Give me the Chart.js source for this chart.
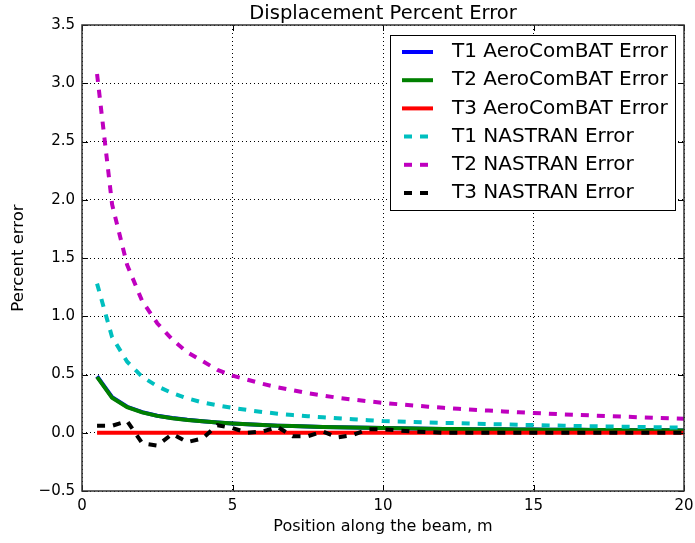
<!DOCTYPE html>
<html lang="en">
<head>
<meta charset="UTF-8">
<title>Displacement Percent Error</title>
<script src="https://cdn.jsdelivr.net/npm/chart.js"></script>
<style>
  html, body { margin: 0; padding: 0; background: #fff; }
  #wrap { width: 695px; height: 543px; }
</style>
</head>
<body>
<div id="wrap"><canvas id="errChart" width="695" height="543"></canvas></div>
<script>
// position along the beam (m)
const posiciones = [0.5, 1, 1.5, 2, 2.5, 3, 3.5, 4, 4.5, 5, 5.5, 6, 6.5, 7, 7.5, 8, 8.5, 9, 9.5, 10,
  10.5, 11, 11.5, 12, 12.5, 13, 13.5, 14, 14.5, 15, 15.5, 16, 16.5, 17, 17.5, 18, 18.5, 19, 19.5, 20];

const t1Aero = [0.485, 0.305, 0.223, 0.177, 0.146, 0.126, 0.111, 0.099, 0.088, 0.079, 0.072, 0.066, 0.061, 0.057, 0.053, 0.05, 0.047, 0.044, 0.042, 0.04,
  0.038, 0.036, 0.035, 0.033, 0.032, 0.031, 0.03, 0.029, 0.028, 0.027, 0.026, 0.025, 0.025, 0.024, 0.023, 0.023, 0.022, 0.021, 0.021, 0.02];
const t2Aero = [0.48, 0.30, 0.22, 0.175, 0.145, 0.125, 0.11, 0.098, 0.088, 0.079, 0.072, 0.066, 0.061, 0.057, 0.053, 0.05, 0.047, 0.044, 0.042, 0.04,
  0.038, 0.036, 0.035, 0.033, 0.032, 0.031, 0.03, 0.029, 0.028, 0.027, 0.026, 0.025, 0.025, 0.024, 0.023, 0.023, 0.022, 0.021, 0.021, 0.02];
const t3Aero = [0, 0, 0, 0, 0, 0, 0, 0, 0, 0, 0, 0, 0, 0, 0, 0, 0, 0, 0, 0,
  0, 0, 0, 0, 0, 0, 0, 0, 0, 0, 0, 0, 0, 0, 0, 0, 0, 0, 0, 0];
const t1Nastran = [1.28, 0.82, 0.61, 0.48, 0.40, 0.34, 0.295, 0.26, 0.235, 0.213, 0.195, 0.178, 0.164, 0.152, 0.142, 0.133, 0.124, 0.116, 0.108, 0.1,
  0.097, 0.093, 0.089, 0.085, 0.082, 0.078, 0.075, 0.072, 0.069, 0.066, 0.063, 0.061, 0.058, 0.056, 0.054, 0.052, 0.05, 0.048, 0.046, 0.044];
const t2Nastran = [3.08, 1.96, 1.44, 1.13, 0.94, 0.80, 0.69, 0.615, 0.54, 0.49, 0.455, 0.42, 0.39, 0.365, 0.34, 0.32, 0.30, 0.285, 0.27, 0.257,
  0.245, 0.234, 0.224, 0.214, 0.205, 0.197, 0.19, 0.183, 0.176, 0.17, 0.164, 0.158, 0.153, 0.148, 0.143, 0.138, 0.133, 0.128, 0.124, 0.12];
const t3Nastran = [0.06, 0.06, 0.10, -0.09, -0.11, -0.01, -0.08, -0.05, 0.065, 0.04, 0.0, 0.01, 0.05, -0.03, -0.03, 0.01, -0.04, -0.02, 0.03, 0.03,
  0.02, 0.01, 0.005, 0, 0, 0, 0, 0, 0, 0, 0, 0, 0, 0, 0, 0, 0, 0, 0, 0];

const yTicks = [-0.5, 0, 0.5, 1, 1.5, 2, 2.5, 3, 3.5];
const xTicks = [0, 5, 10, 15, 20];

const titulo = 'Displacement Percent Error';
const FUENTE = '"DejaVu Sans", sans-serif';

function puntos(valores) {
  return posiciones.map((x, i) => ({ x: x, y: valores[i] }));
}

function serie(label, valores, color, dashed, orden) {
  return {
    label: label,
    data: puntos(valores),
    borderColor: color,
    backgroundColor: color,
    borderWidth: 4,
    borderDash: dashed ? [8, 8] : [],
    borderCapStyle: 'butt',
    pointRadius: 0,
    tension: 0,
    fill: false,
    order: orden
  };
}

// frame around the plot with inward ticks on all four sides, title centred over the plot
const marco = {
  id: 'marco',
  afterDatasetsDraw(chart) {
    const { ctx, chartArea: a, scales } = chart;
    ctx.save();
    ctx.strokeStyle = '#000';
    ctx.lineWidth = 1;
    xTicks.forEach(v => {
      const px = Math.round(scales.x.getPixelForValue(v)) + 0.5;
      ctx.beginPath();
      ctx.moveTo(px, a.bottom); ctx.lineTo(px, a.bottom - 6);
      ctx.moveTo(px, a.top); ctx.lineTo(px, a.top + 6);
      ctx.stroke();
    });
    yTicks.forEach(v => {
      const py = Math.round(scales.y.getPixelForValue(v)) + 0.5;
      ctx.beginPath();
      ctx.moveTo(a.left, py); ctx.lineTo(a.left + 6, py);
      ctx.moveTo(a.right, py); ctx.lineTo(a.right - 6, py);
      ctx.stroke();
    });
    ctx.strokeStyle = '#333';
    ctx.lineWidth = 1.5;
    ctx.strokeRect(a.left, a.top, a.right - a.left, a.bottom - a.top);

    ctx.fillStyle = '#000';
    ctx.font = '19.5px ' + FUENTE;
    ctx.textAlign = 'center';
    ctx.textBaseline = 'alphabetic';
    ctx.fillText(titulo, (a.left + a.right) / 2, 19);
    ctx.restore();
  }
};

// legend box in the upper right corner of the plot
const leyenda = {
  id: 'leyenda',
  afterDraw(chart) {
    const { ctx } = chart;
    const caja = { x: 390.5, y: 35.5, w: 285, h: 175 };
    ctx.save();
    ctx.fillStyle = '#fff';
    ctx.fillRect(caja.x, caja.y, caja.w, caja.h);
    ctx.strokeStyle = '#000';
    ctx.lineWidth = 1;
    ctx.strokeRect(caja.x, caja.y, caja.w, caja.h);
    ctx.font = '20px ' + FUENTE;
    ctx.textBaseline = 'middle';
    chart.data.datasets.forEach((ds, i) => {
      const y = 52 + i * 28.2;
      ctx.beginPath();
      ctx.strokeStyle = ds.borderColor;
      ctx.lineWidth = 4;
      ctx.lineCap = 'butt';
      ctx.setLineDash(ds.borderDash);
      ctx.lineDashOffset = -2;
      ctx.moveTo(402, y);
      ctx.lineTo(433, y);
      ctx.stroke();
      ctx.setLineDash([]);
      ctx.fillStyle = '#000';
      ctx.fillText(ds.label, 452, y);
    });
    ctx.restore();
  }
};

const ctx = document.getElementById('errChart').getContext('2d');

new Chart(ctx, {
  type: 'line',
  data: {
    datasets: [
      serie('T1 AeroComBAT Error', t1Aero, '#0000ff', false, 6),
      serie('T2 AeroComBAT Error', t2Aero, '#008000', false, 5),
      serie('T3 AeroComBAT Error', t3Aero, '#ff0000', false, 4),
      serie('T1 NASTRAN Error', t1Nastran, '#00bfbf', true, 3),
      serie('T2 NASTRAN Error', t2Nastran, '#bf00bf', true, 2),
      serie('T3 NASTRAN Error', t3Nastran, '#000000', true, 1)
    ]
  },
  options: {
    responsive: false,
    animation: false,
    layout: { padding: { top: 25, right: 11, bottom: 0, left: 0 } },
    plugins: {
      legend: { display: false },
      tooltip: { enabled: false },
      title: { display: false }
    },
    scales: {
      x: {
        type: 'linear',
        min: 0,
        max: 20,
        afterBuildTicks: s => { s.ticks = xTicks.map(v => ({ value: v })); },
        afterFit: s => { s.height = 52; s.paddingLeft = 0; s.paddingRight = 0; },
        grid: { color: '#000', lineWidth: 1, drawTicks: false },
        border: { display: false, dash: [1, 3] },
        ticks: {
          color: '#000',
          padding: 6,
          font: { family: FUENTE, size: 15 },
          maxRotation: 0,
          callback: v => String(v)
        },
        title: {
          display: true,
          text: 'Position along the beam, m',
          color: '#000',
          font: { family: FUENTE, size: 16 },
          padding: { top: 0, bottom: 7 }
        }
      },
      y: {
        type: 'linear',
        min: -0.5,
        max: 3.5,
        afterBuildTicks: s => { s.ticks = yTicks.map(v => ({ value: v })); },
        afterFit: s => { s.width = 82; s.paddingTop = 0; s.paddingBottom = 0; },
        grid: { color: '#000', lineWidth: 1, drawTicks: false },
        border: { display: false, dash: [1, 3] },
        ticks: {
          color: '#000',
          padding: 7,
          font: { family: FUENTE, size: 15 },
          callback: v => v.toFixed(1).replace('-', '\u2212')
        },
        title: {
          display: true,
          text: 'Percent error',
          color: '#000',
          font: { family: FUENTE, size: 16.5 },
          padding: { top: 9, bottom: 0 }
        }
      }
    }
  },
  plugins: [marco, leyenda]
});
</script>
</body>
</html>
